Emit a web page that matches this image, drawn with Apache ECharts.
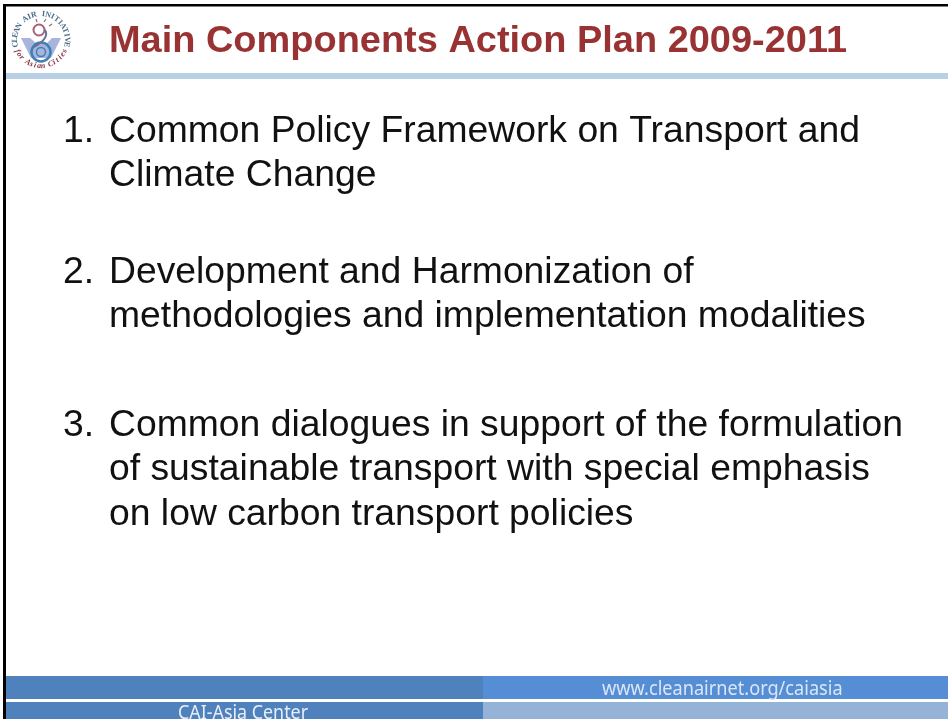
<!DOCTYPE html>
<html>
<head>
<meta charset="utf-8">
<title>Main Components Action Plan 2009-2011</title>
<style>
  html, body { margin: 0; padding: 0; background: #fff; }
  #main { width: 948px; height: 719px; }
</style>
<script src="https://cdn.jsdelivr.net/npm/echarts@6/dist/echarts.min.js"></script>
</head>
<body>
<div id="main"></div>
<script>
var slideTitle = 'Main Components Action Plan 2009-2011'
var itemNumbers = ['1.', '2.', '3.']
var itemLines = [
  ['Common Policy Framework on Transport and', 'Climate Change'],
  ['Development and Harmonization of', 'methodologies and implementation modalities'],
  ['Common dialogues in support of the formulation', 'of sustainable transport with special emphasis', 'on low carbon transport policies']
]
var itemTops = [129, 270, 423]
var footerUrl = 'www.cleanairnet.org/caiasia'
var footerName = 'CAI-Asia Center'
var logoTop = 'CLEAN AIR INITIATIVE'
var logoBottom = 'for Asian Cities'

var lineGap = 44.5
var elements = []

function rect(x, y, w, h, fill) {
  elements.push({ type: 'rect', shape: { x: x, y: y, width: w, height: h }, style: { fill: fill }, silent: true })
}
function text(str, x, y, font, fill, extra) {
  var el = { type: 'text', x: x, y: y, silent: true, style: { text: str, font: font, fill: fill, verticalAlign: 'middle' } }
  elements.push(Object.assign(el, extra || {}))
}

// frame
rect(3, 4, 945, 2.5, '#000')
rect(3, 4, 3, 715, '#000')

// header rule
rect(6, 73, 942, 6, '#b8cfe6')
text(slideTitle, 109, 42.5, 'bold 36px "Liberation Sans"', '#993333', { scaleX: 1.054 })

// body
itemNumbers.forEach(function (num, i) {
  text(num, 63, itemTops[i] + 2.5, '37.3px "Liberation Sans"', '#111')
  itemLines[i].forEach(function (line, j) {
    text(line, 109, itemTops[i] + 2.5 + j * lineGap, '37.3px "Liberation Sans"', '#111')
  })
})

// footer bands
rect(6, 676, 477, 23, '#4f81bd')
rect(483, 676, 465, 23, '#558ed5')
rect(6, 702, 477, 17, '#4f81bd')
rect(483, 702, 465, 17, '#95b3d7')
text(footerUrl, 602, 690, '19px "Noto Sans"', '#dbe6f4', { scaleX: 0.955 })
text(footerName, 178, 714, '19px "Noto Sans"', '#e8eef7', { scaleX: 0.94 })

// logo: lettering around the ring
var cx = 41, cy = 40
function ringText(str, startDeg, endDeg, r, font, fill, flip) {
  var chars = str.split('')
  chars.forEach(function (c, i) {
    var deg = startDeg + (endDeg - startDeg) * i / (chars.length - 1)
    var a = deg * Math.PI / 180
    elements.push({
      type: 'text', silent: true,
      x: cx + r * Math.sin(a), y: cy - r * Math.cos(a),
      rotation: flip ? -(a - Math.PI) : -a,
      style: { text: c, font: font, fill: fill, align: 'center', verticalAlign: 'middle' }
    })
  })
}
ringText(logoTop, -100, 100, 26, 'bold 8px "Liberation Serif"', '#4a6a85', false)
ringText(logoBottom, 245, 115, 26, 'italic bold 8px "Liberation Serif"', '#8a3340', true)
elements.push({ type: 'polygon', silent: true, shape: { points: [[21, 38], [30, 38], [37, 44], [46, 44], [52, 38], [61, 38], [51, 58], [31, 58]] }, style: { fill: '#a9b4dc' } })
elements.push({ type: 'circle', silent: true, shape: { cx: 41, cy: 52, r: 9.5 }, style: { fill: 'none', stroke: '#3f7fb5', lineWidth: 2.5 } })
elements.push({ type: 'circle', silent: true, shape: { cx: 41, cy: 52, r: 4.5 }, style: { fill: 'none', stroke: '#3f7fb5', lineWidth: 1.5 } })
elements.push({ type: 'circle', silent: true, shape: { cx: 39, cy: 30, r: 5.5 }, style: { fill: 'none', stroke: '#a5607a', lineWidth: 2 } })
elements.push({ type: 'bezierCurve', silent: true, shape: { x1: 45, y1: 30, cpx1: 50, cpy1: 38, x2: 34, y2: 47 }, style: { fill: 'none', stroke: '#6a6f9a', lineWidth: 2 } })
elements.push({ type: 'line', silent: true, shape: { x1: 37, y1: 22, x2: 36, y2: 19 }, style: { stroke: '#8a6a70', lineWidth: 1.2 } })
elements.push({ type: 'line', silent: true, shape: { x1: 44, y1: 22, x2: 46, y2: 19 }, style: { stroke: '#8a6a70', lineWidth: 1.2 } })
elements.push({ type: 'line', silent: true, shape: { x1: 49, y1: 26, x2: 52, y2: 24 }, style: { stroke: '#8a6a70', lineWidth: 1.2 } })

var chart = echarts.init(document.getElementById('main'))
chart.setOption({
  backgroundColor: '#fff',
  animation: false,
  graphic: { elements: elements }
})
</script>
</body>
</html>
